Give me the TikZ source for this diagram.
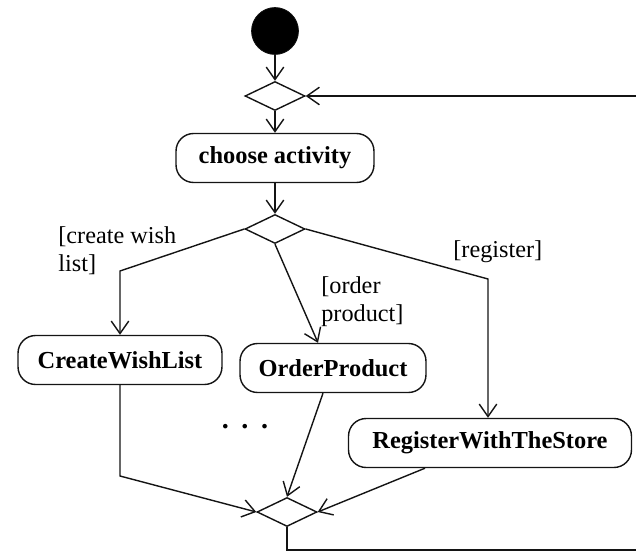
\documentclass[tikz,border=0pt]{standalone}
\usepackage{fontspec}
\setmainfont{Liberation Serif}
\usepackage{tikz}
\usetikzlibrary{shapes.geometric, arrows.meta, positioning, calc}
\definecolor{mydark}{RGB}{20,20,20}
\tikzset{
  activity/.style={rectangle, draw=mydark, fill=white,
    align=center, minimum height=0.98cm,
    font=\fontsize{13.9}{15}\selectfont\bfseries, rounded corners=10pt, line width=0.8pt},
  decision/.style={diamond, draw=mydark, fill=white,
    minimum width=1.2cm, minimum height=0.58cm, inner sep=0pt, line width=0.8pt},
  initial/.style={circle, draw=mydark, fill=black,
    minimum size=0.94cm, inner sep=0pt},
  guard/.style={align=left, font=\fontsize{13.8}{16}\selectfont, inner sep=0pt},
  arrow/.style={-{Straight Barb[length=2.5mm, width=3.5mm]}, line width=0.8pt, color=mydark},
  line/.style={line width=0.8pt, color=mydark}
}
\begin{document}
\begin{tikzpicture}[x=0.02cm, y=-0.02cm]
  \useasboundingbox (0,0) rectangle (636,551);

  % Start and loop entry
  \node[initial] (start) at (275, 31) {};
  \node[decision] (merge) at (275, 96) {};
  \node[activity, minimum width=3.96cm] (choose) at (275, 158) {choose activity};
  \node[decision] (decide) at (275, 229) {};

  % Activities
  \node[activity, minimum width=4.08cm] (wish) at (120, 360) {CreateWishList};
  \node[activity, minimum width=3.72cm] (order) at (333, 368) {OrderProduct};
  \node[activity, minimum width=5.66cm] (register) at (490, 443) {RegisterWithTheStore};
  \node (dots) at (245, 427) {\fontsize{16}{16}\selectfont\bfseries .\hspace{0.45em}.\hspace{0.45em}.};

  % Join
  \node[decision] (join) at (287, 512) {};

  % Guards
  \node[guard, anchor=north west] (gwish) at (58, 226) {[create wish\\list]};
  \node[guard, anchor=north west] (gorder) at (321, 276) {[order\\product]};
  \node[guard, anchor=west] (greg) at (453, 252) {[register]};

  % Bend points
  \coordinate (bwish) at (wish.north |- 0, 271);
  \coordinate (breg) at (488, 279);
  \coordinate (bjoin) at (wish.south |- 0, 476);
  \coordinate (loopB) at (660, 550);
  \coordinate (loopT) at (660, 96);

  % Connections
  \draw[arrow] (start) -- (merge.north);
  \draw[arrow] (merge) -- (choose);
  \draw[arrow] (choose) -- (decide);

  \draw[arrow] (decide.west) -- (bwish) -- (wish.north);
  \draw[arrow] (decide.south) -- ($(order.north)+(-15,0)$);
  \draw[arrow] (decide.east) -- (breg) -- (breg |- register.north);

  \draw[arrow] (wish.south) -- (bjoin) -- (join.west);
  \draw[arrow] ($(order.south)+(-10,0)$) -- (join.north);
  \draw[arrow] ($(register.south)+(-65,0)$) -- (join.east);

  \draw[arrow] (join.south) |- (loopB) -- (loopT) -- (merge.east);
\end{tikzpicture}
\end{document}
